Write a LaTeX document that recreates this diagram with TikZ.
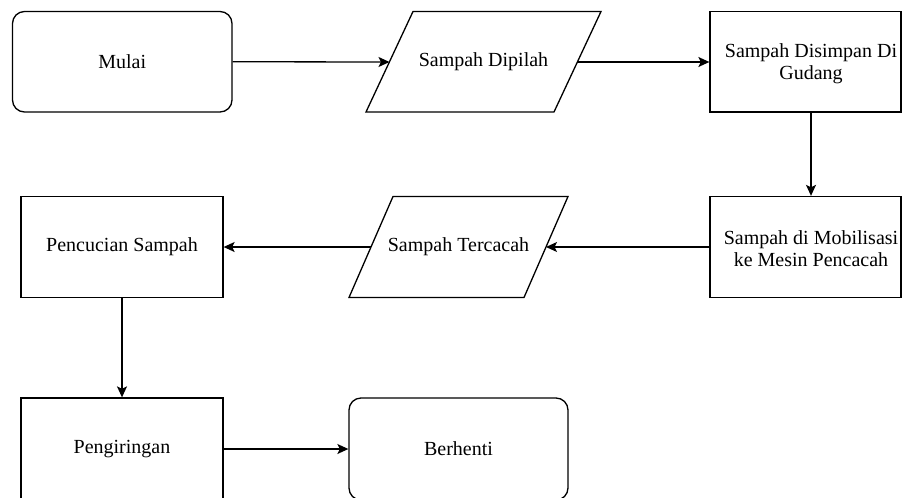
\documentclass[tikz,border=0pt]{standalone}
\usepackage{fontspec}
\setmainfont{Liberation Serif}
\usetikzlibrary{arrows.meta}
\begin{document}
\begin{tikzpicture}[x=1pt,y=-1pt,
  lbl/.style={inner sep=0pt, align=center, font=\fontsize{20}{22}\selectfont},
  proc/.style={draw, line width=1.3pt, inner sep=0pt, lbl},
  term/.style={proc, rounded corners=12pt},
  para/.style={draw, line width=1.3pt, line join=miter},
  conn/.style={-{Stealth[length=11pt,width=10pt,inset=2.5pt]}, line width=1.3pt}]
\clip (0,0) rectangle (903,498);
\useasboundingbox (0,0) rectangle (903,498);
% row 1
\node[term, minimum width=219.5pt, minimum height=100.5pt] (mulai) at (122.25,61.75) {Mulai};
\draw[para] (413,11.5) -- (601,11.5) -- (554,112) -- (366,112) -- cycle;
\node[lbl] (dipilah) at (483.5,62) {Sampah Dipilah};
\coordinate (dipL) at (389.5,62);
\coordinate (dipR) at (577.5,62);
\node[proc, minimum width=191pt, minimum height=100.5pt] (gudang) at (805.5,61.75) {};
\node[lbl] (gtext) at (811,64) {Sampah Disimpan Di\\Gudang};
% row 2
\node[proc, minimum width=191pt, minimum height=101pt] (mob) at (805.5,247) {};
\node[lbl] (mtext) at (811,249) {Sampah di Mobilisasi\\ke Mesin Pencacah};
\draw[para] (393,196.5) -- (568,196.5) -- (524,297.5) -- (349,297.5) -- cycle;
\node[lbl] (tercacah) at (458.5,247) {Sampah Tercacah};
\coordinate (terL) at (371,247);
\coordinate (terR) at (546,247);
\node[proc, minimum width=202pt, minimum height=101pt] (cuci) at (122,247) {Pencucian Sampah};
% row 3
\node[proc, minimum width=202pt, minimum height=102pt] (kirim) at (122,449) {Pengiringan};
\node[term, minimum width=219pt, minimum height=102pt] (stop) at (458.5,449) {Berhenti};
% connectors
\draw[conn] (mulai.east) -- (dipL);
\draw[conn] (dipR) -- (gudang.west |- dipR);
\draw[conn] (gtext |- gudang.south) -- (gtext |- mob.north);
\draw[conn] (mob.west) -- (terR);
\draw[conn] (terL) -- (cuci.east);
\draw[conn] (cuci.south) -- (kirim.north);
\draw[conn] (kirim.east) -- (stop.west);
\end{tikzpicture}
\end{document}
